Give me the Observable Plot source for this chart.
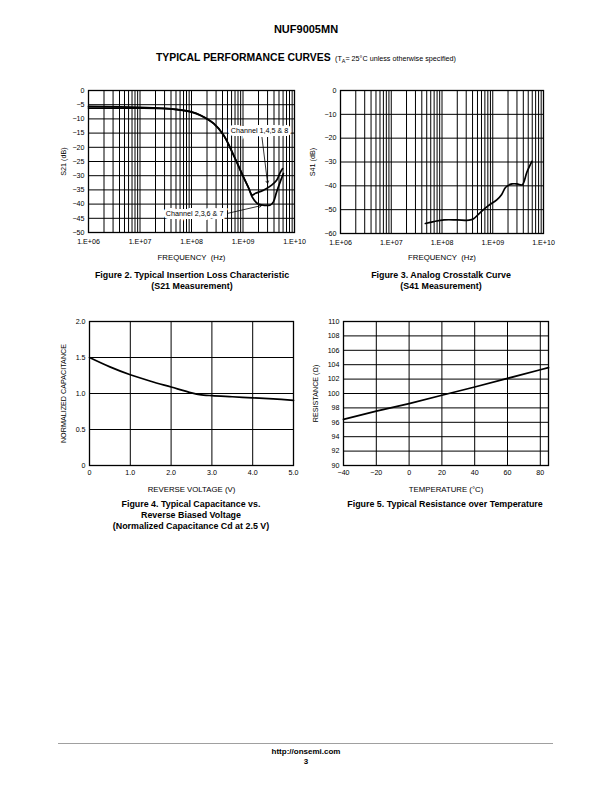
<!DOCTYPE html>
<html><head><meta charset="utf-8">
<script src="https://cdn.jsdelivr.net/npm/d3@7"></script>
<script src="https://cdn.jsdelivr.net/npm/@observablehq/plot@0.6"></script>
<style>
body{margin:0;background:#fff;font-family:"Liberation Sans",Arial,Helvetica,sans-serif;color:#000;}
#page{position:relative;width:612px;height:792px;overflow:hidden;background:#fff;}
.abs{position:absolute;}
.c{position:absolute;text-align:center;white-space:nowrap;z-index:2;}
.cap{font-weight:bold;font-size:8.9px;line-height:11.4px;}
g[aria-label="x-axis label"]{font-size:7.8px;}
g[aria-label="y-axis label"]{font-size:7.2px;}
</style></head>
<body><div id="page">
<div class="c" style="left:0;width:612px;top:23px;font-weight:bold;font-size:11px;">NUF9005MN</div>
<div class="c" style="left:0;width:612px;top:47px;"><span style="font-weight:bold;font-size:10.4px;">TYPICAL PERFORMANCE CURVES</span> <span style="font-size:7.2px;">(T<sub style="font-size:5.4px;">A</sub>= 25°C unless otherwise specified)</span></div>
<div class="c cap" style="left:42px;width:300px;top:269.5px;">Figure 2. Typical Insertion Loss Characteristic<br>(S21 Measurement)</div>
<div class="c cap" style="left:291px;width:300px;top:269.5px;">Figure 3. Analog Crosstalk Curve<br>(S41 Measurement)</div>
<div class="c cap" style="left:41px;width:300px;top:498.5px;">Figure 4. Typical Capacitance vs.<br>Reverse Biased Voltage<br>(Normalized Capacitance Cd at 2.5 V)</div>
<div class="c cap" style="left:295px;width:300px;top:498.5px;">Figure 5. Typical Resistance over Temperature</div>
<div class="abs" style="left:58px;top:743px;width:495px;height:0;border-top:1.5px solid #a0a0a0;"></div>
<div class="c" style="left:0;width:612px;top:747px;font-weight:bold;font-size:8px;line-height:10px;">http://onsemi.com<br>3</div>
</div>
<script>
// ---- tick labels / categories ----
const freqTicks = [1e6, 1e7, 1e8, 1e9, 1e10];
const s21Ticks = [0, -5, -10, -15, -20, -25, -30, -35, -40, -45, -50];
const s41Ticks = [0, -10, -20, -30, -40, -50, -60];
const voltTicks = [0, 1, 2, 3, 4, 5];
const capTicks = [0, 0.5, 1, 1.5, 2];
const tempTicks = [-40, -20, 0, 20, 40, 60, 80];
const resTicks = [90, 92, 94, 96, 98, 100, 102, 104, 106, 108, 110];

// ---- Figure 2 series (S21) ----
const freqCh1458 = [1e6, 1e7, 3e7, 6e7, 1e8, 1.5e8, 2.7e8, 4.2e8, 6.6e8, 9.5e8, 1.3e9, 1.5e9, 1.75e9, 2.5e9, 3.6e9, 4.5e9, 5.3e9, 5.9e9];
const s21Ch1458  = [-5.6, -5.9, -6.3, -6.8, -7.5, -8.7, -11.6, -15.7, -22.8, -29.2, -34.5, -36.8, -36.2, -35.1, -33.3, -31.6, -28.8, -27.5];
const freqCh2367 = [1e6, 1e7, 3e7, 6e7, 1e8, 1.5e8, 2.7e8, 4.2e8, 6.6e8, 9.5e8, 1.3e9, 1.5e9, 1.9e9, 2.3e9, 3.4e9, 3.9e9, 4.5e9, 5.3e9, 6.1e9];
const s21Ch2367  = [-6.2, -6.2, -6.4, -6.9, -7.6, -8.8, -11.7, -15.8, -22.9, -29.3, -34.6, -37.4, -39.8, -40.3, -40.3, -39.2, -35.7, -32.1, -29.2];
const labelText = ["Channel 1,4,5 & 8", "Channel 2,3,6 & 7"];
const labelFreq = [2.1e9, 1.15e8];
const labelDb = [-14.2, -43.3];
const arrowFreqFrom = [2.33e9, 5.2e8];
const arrowDbFrom = [-16.3, -43.2];
const arrowFreqTo = [3.0e9, 2.3e9];
const arrowDbTo = [-32.7, -40.5];

// ---- Figure 3 series (S41) ----
const freqS41 = [4.7e7, 6.9e7, 1.1e8, 2e8, 3.4e8, 4.2e8, 5.6e8, 8.2e8, 1.2e9, 1.5e9, 1.8e9, 2.4e9, 3e9, 3.8e9, 4.1e9, 4.7e9, 5.9e9];
const s41 = [-55.8, -55, -54.3, -54.3, -54.4, -53.8, -51.3, -48.3, -45.9, -43.6, -40.6, -39.2, -39.2, -39.6, -38.5, -34.3, -29.7];

// ---- Figure 4 series ----
const voltage = [0, 0.5, 1.0, 1.5, 2.0, 2.5, 2.7, 3.0, 3.5, 4.0, 4.5, 5.0];
const normCap = [1.5, 1.37, 1.26, 1.17, 1.09, 1.01, 0.985, 0.97, 0.955, 0.94, 0.925, 0.905];

// ---- Figure 5 series ----
const temperature = [-40, -20, 0, 20, 40, 60, 80, 85];
const resistance = [96.4, 97.55, 98.6, 99.75, 100.9, 102.1, 103.3, 103.6];

// ---- helpers ----
const page = document.getElementById("page");
const fontFamily = "'Liberation Sans', Arial, Helvetica, sans-serif";
const baseStyle = {fontFamily, fontSize: "7.1px", background: "transparent", color: "black", overflow: "visible"};
const fmtE = d => "1.E+" + String(Math.round(Math.log10(d))).padStart(2, "0");
const fmt1 = d => d === 0 ? "0" : d.toFixed(1);
const logGrid = d3.range(6, 10).flatMap(e => d3.range(1, 10).map(m => m * Math.pow(10, e))).concat([1e10]);
const rows = (xs, ys) => xs.map((x, i) => ({x, y: ys[i]}));
const gridStyle = {stroke: "black", strokeOpacity: 1, strokeWidth: 1};
const lineStyle = {x: "x", y: "y", stroke: "black", strokeWidth: 1.7, curve: "catmull-rom"};

function place(svg, left, top) {
  svg.style.position = "absolute";
  svg.style.left = left + "px";
  svg.style.top = top + "px";
  svg.style.zIndex = "1";
  page.appendChild(svg);
}

// Figure 2
const fig2 = Plot.plot({
  width: 260, height: 190, marginLeft: 38, marginRight: 16, marginTop: 10, marginBottom: 38,
  style: baseStyle,
  x: {type: "log", domain: [1e6, 1e10]},
  y: {domain: [-50, 0]},
  marks: [
    Plot.gridX(logGrid, gridStyle),
    Plot.gridY(s21Ticks, gridStyle),
    Plot.frame({stroke: "black", strokeWidth: 1.3}),
    Plot.axisX(freqTicks, {tickFormat: fmtE, tickSize: 0, tickPadding: 6, label: "FREQUENCY  (Hz)", labelAnchor: "center", labelOffset: 27.5, labelArrow: "none"}),
    Plot.axisY(s21Ticks, {tickSize: 0, tickPadding: 4, label: "S21 (dB)", labelAnchor: "center", labelOffset: 28, labelArrow: "none"}),
    Plot.line(rows(freqCh2367, s21Ch2367), lineStyle),
    Plot.line(rows(freqCh1458, s21Ch1458), lineStyle),
    Plot.arrow(arrowFreqFrom.map((f, i) => ({x1: f, y1: arrowDbFrom[i], x2: arrowFreqTo[i], y2: arrowDbTo[i]})),
      {x1: "x1", y1: "y1", x2: "x2", y2: "y2", stroke: "black", strokeWidth: 0.8, headLength: 5, bend: 0}),
    Plot.text(labelText.map((t, i) => ({t, x: labelFreq[i], y: labelDb[i]})),
      {x: "x", y: "y", text: "t", fontSize: 7.2, fill: "black", stroke: "white", strokeWidth: 6, strokeLinejoin: "miter"})
  ]
});
place(fig2, 50, 80);

// Figure 3
const fig3 = Plot.plot({
  width: 260, height: 190, marginLeft: 40, marginRight: 17, marginTop: 10, marginBottom: 37,
  style: baseStyle,
  x: {type: "log", domain: [1e6, 1e10]},
  y: {domain: [-60, 0]},
  marks: [
    Plot.gridX(logGrid, gridStyle),
    Plot.gridY(s41Ticks, gridStyle),
    Plot.frame({stroke: "black", strokeWidth: 1.3}),
    Plot.axisX(freqTicks, {tickFormat: fmtE, tickSize: 0, tickPadding: 6, label: "FREQUENCY  (Hz)", labelAnchor: "center", labelOffset: 26.5, labelArrow: "none"}),
    Plot.axisY(s41Ticks, {tickSize: 0, tickPadding: 4, label: "S41 (dB)", labelAnchor: "center", labelOffset: 31, labelArrow: "none"}),
    Plot.line(rows(freqS41, s41), lineStyle)
  ]
});
place(fig3, 300, 80);

// Figure 4
const fig4 = Plot.plot({
  width: 260, height: 180, marginLeft: 39, marginRight: 17, marginTop: 10, marginBottom: 26,
  style: baseStyle,
  x: {domain: [0, 5]},
  y: {domain: [0, 2]},
  marks: [
    Plot.gridX(voltTicks, gridStyle),
    Plot.gridY(capTicks, gridStyle),
    Plot.frame({stroke: "black", strokeWidth: 1.3}),
    Plot.axisX(voltTicks, {tickFormat: fmt1, tickSize: 0, tickPadding: 4, label: "REVERSE VOLTAGE (V)", labelAnchor: "center", labelOffset: 26.5, labelArrow: "none"}),
    Plot.axisY(capTicks, {tickFormat: fmt1, tickSize: 0, tickPadding: 4, label: "NORMALIZED CAPACITANCE", labelAnchor: "center", labelOffset: 29, labelArrow: "none"}),
    Plot.line(rows(voltage, normCap), lineStyle)
  ]
});
place(fig4, 50, 311);

// Figure 5
const fig5 = Plot.plot({
  width: 260, height: 180, marginLeft: 43, marginRight: 12, marginTop: 10, marginBottom: 26,
  style: baseStyle,
  x: {domain: [-40, 85]},
  y: {domain: [90, 110]},
  marks: [
    Plot.gridX(tempTicks, gridStyle),
    Plot.gridY(resTicks, gridStyle),
    Plot.frame({stroke: "black", strokeWidth: 1.3}),
    Plot.axisX(tempTicks, {tickSize: 0, tickPadding: 4, label: "TEMPERATURE (°C)", labelAnchor: "center", labelOffset: 26.5, labelArrow: "none"}),
    Plot.axisY(resTicks, {tickSize: 0, tickPadding: 4, label: "RESISTANCE (Ω)", labelAnchor: "center", labelOffset: 31, labelArrow: "none"}),
    Plot.line(rows(temperature, resistance), {...lineStyle, curve: "linear"})
  ]
});
place(fig5, 300, 311);
</script>
</body></html>
